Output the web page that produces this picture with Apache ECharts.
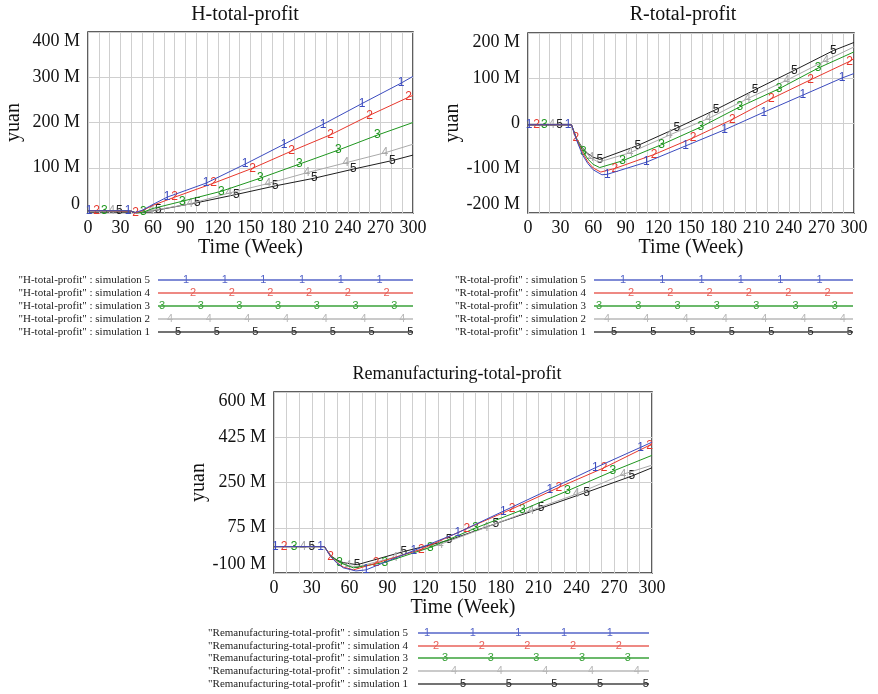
<!DOCTYPE html>
<html><head><meta charset="utf-8">
<script src="https://cdn.jsdelivr.net/npm/echarts@6/dist/echarts.min.js"></script>
<style>html,body{margin:0;padding:0;background:#fff}#c{width:878px;height:694px}</style>
</head><body><div id="c"></div>
<script>
// ---------- shared ----------
const SIM_NAMES = ['simulation 5', 'simulation 4', 'simulation 3', 'simulation 2', 'simulation 1'];
const SIM_MARKS = ['1', '2', '3', '4', '5'];
const COLORS = ['#3b4bbf', '#e8372c', '#1e961e', '#a9a9a9', '#1e1e1e'];
const LEGEND_COLORS = ['#5464c8', '#e8625a', '#3aa23a', '#b8b8b8', '#444444'];
const TITLES = ['H-total-profit', 'R-total-profit', 'Remanufacturing-total-profit'];
const X_LABELS = [0, 30, 60, 90, 120, 150, 180, 210, 240, 270, 300];

// ---------- H-total-profit (M yuan), sim5..sim1 ----------
const H_WEEKS_S5 = [0, 1, 37, 40, 43, 50, 60, 73, 109, 145, 181, 217, 253, 289, 300];
const H_VALS_S5  = [5, 5, 5, 4, 1, 6, 19, 35, 66, 108, 152, 196, 242, 287, 302];
const H_MARKS_S5 = [1, 37, 73, 109, 145, 181, 217, 253, 289];
const H_WEEKS_S4 = [0, 8, 40, 44, 50, 60, 80, 116, 152, 188, 224, 260, 296, 300];
const H_VALS_S4  = [5, 5, 4, 0, 5, 17, 35, 66, 99, 137, 173, 216, 256, 260];
const H_MARKS_S4 = [8, 44, 80, 116, 152, 188, 224, 260, 296];
const H_WEEKS_S3 = [0, 15, 40, 45, 51, 60, 87, 123, 159, 195, 231, 267, 300];
const H_VALS_S3  = [5, 5, 4, 0, 2, 10, 26, 48, 77, 108, 139, 172, 200];
const H_MARKS_S3 = [15, 51, 87, 123, 159, 195, 231, 267];
const H_WEEKS_S2 = [0, 22, 40, 45, 58, 94, 130, 166, 202, 238, 274, 300];
const H_VALS_S2  = [5, 5, 4, 0, 5, 20, 44, 65, 89, 111, 133, 152];
const H_MARKS_S2 = [22, 58, 94, 130, 166, 202, 238, 274];
const H_WEEKS_S1 = [0, 29, 40, 45, 65, 101, 137, 173, 209, 245, 281, 300];
const H_VALS_S1  = [5, 5, 4, 0, 7, 23, 41, 60, 77, 97, 116, 128];
const H_MARKS_S1 = [29, 65, 101, 137, 173, 209, 245, 281];

// ---------- R-total-profit (M yuan) ----------
const R_WEEKS_S5 = [0, 1, 37, 40, 45, 50, 55, 60, 68, 73, 109, 145, 181, 217, 253, 289, 300];
const R_VALS_S5  = [-4, -4, -4, -4, -40, -70, -90, -104, -115, -114, -87, -51, -15, 24, 62, 100, 110];
const R_MARKS_S5 = [1, 37, 73, 109, 145, 181, 217, 253, 289];
const R_WEEKS_S4 = [0, 8, 40, 44, 50, 55, 60, 67, 80, 116, 152, 188, 224, 260, 296, 300];
const R_VALS_S4  = [-4, -4, -4, -33, -65, -86, -100, -109, -101, -70, -33, 8, 54, 96, 137, 143];
const R_MARKS_S4 = [8, 44, 80, 116, 152, 188, 224, 260, 296];
const R_WEEKS_S3 = [0, 15, 40, 45, 51, 55, 60, 66, 87, 123, 159, 195, 231, 267, 300];
const R_VALS_S3  = [-4, -4, -4, -38, -64, -80, -92, -99, -84, -48, -9, 36, 76, 122, 158];
const R_MARKS_S3 = [15, 51, 87, 123, 159, 195, 231, 267];
const R_WEEKS_S2 = [0, 22, 40, 45, 50, 58, 65, 94, 130, 166, 202, 238, 274, 300];
const R_VALS_S2  = [-4, -4, -4, -37, -57, -78, -87, -66, -27, 10, 54, 95, 139, 169];
const R_MARKS_S2 = [22, 58, 94, 130, 166, 202, 238, 274];
const R_WEEKS_S1 = [0, 29, 40, 45, 50, 55, 60, 66, 101, 137, 173, 209, 245, 281, 300];
const R_VALS_S1  = [-4, -4, -4, -36, -55, -68, -76, -81, -50, -11, 30, 74, 117, 161, 179];
const R_MARKS_S1 = [29, 66, 101, 137, 173, 209, 245, 281];

// ---------- Remanufacturing-total-profit (M yuan) ----------
const M_WEEKS_S5 = [0, 1, 37, 40, 45, 50, 55, 65, 73, 111, 146, 182, 219, 255, 291, 300];
const M_VALS_S5  = [2, 2, 2, 2, -37, -62, -80, -92, -88, -13, 56, 139, 224, 307, 386, 406];
const M_MARKS_S5 = [1, 37, 73, 111, 146, 182, 219, 255, 291];
const M_WEEKS_S4 = [0, 8, 40, 45, 50, 55, 63, 81, 117, 153, 189, 226, 262, 298, 300];
const M_VALS_S4  = [2, 2, 2, -36, -60, -77, -88, -62, -8, 72, 148, 231, 307, 394, 396];
const M_MARKS_S4 = [8, 45, 81, 117, 153, 189, 226, 262, 298];
const M_WEEKS_S3 = [0, 16, 40, 45, 52, 63, 88, 124, 160, 197, 233, 269, 300];
const M_VALS_S3  = [2, 2, 2, -35, -59, -80, -59, -1, 74, 144, 218, 294, 355];
const M_MARKS_S3 = [16, 52, 88, 124, 160, 197, 233, 269];
const M_WEEKS_S2 = [0, 23, 40, 45, 50, 59, 66, 96, 132, 168, 204, 240, 277, 300];
const M_VALS_S2  = [2, 2, 2, -34, -55, -72, -76, -39, 11, 76, 142, 205, 282, 317];
const M_MARKS_S2 = [23, 59, 96, 132, 168, 204, 240, 277];
const M_WEEKS_S1 = [0, 30, 40, 45, 50, 55, 66, 103, 139, 176, 212, 248, 284, 300];
const M_VALS_S1  = [2, 2, 2, -33, -50, -60, -68, -17, 27, 91, 151, 212, 275, 307];
const M_MARKS_S1 = [30, 66, 103, 139, 176, 212, 248, 284];

const H_SETS = [[H_WEEKS_S5, H_VALS_S5, H_MARKS_S5], [H_WEEKS_S4, H_VALS_S4, H_MARKS_S4], [H_WEEKS_S3, H_VALS_S3, H_MARKS_S3], [H_WEEKS_S2, H_VALS_S2, H_MARKS_S2], [H_WEEKS_S1, H_VALS_S1, H_MARKS_S1]];
const R_SETS = [[R_WEEKS_S5, R_VALS_S5, R_MARKS_S5], [R_WEEKS_S4, R_VALS_S4, R_MARKS_S4], [R_WEEKS_S3, R_VALS_S3, R_MARKS_S3], [R_WEEKS_S2, R_VALS_S2, R_MARKS_S2], [R_WEEKS_S1, R_VALS_S1, R_MARKS_S1]];
const M_SETS = [[M_WEEKS_S5, M_VALS_S5, M_MARKS_S5], [M_WEEKS_S4, M_VALS_S4, M_MARKS_S4], [M_WEEKS_S3, M_VALS_S3, M_MARKS_S3], [M_WEEKS_S2, M_VALS_S2, M_MARKS_S2], [M_WEEKS_S1, M_VALS_S1, M_MARKS_S1]];

// ---------- rendering ----------
const SERIF = '"Liberation Serif", "Times New Roman", serif';
const SANS = '"Liberation Sans", Arial, sans-serif';
const chart = echarts.init(document.getElementById('c'));

const GRIDS = [
  { left: 88, top: 32, width: 325, height: 181 },
  { left: 528, top: 33, width: 326, height: 180 },
  { left: 274, top: 392, width: 378, height: 181 }
];
const Y_RANGES = [[0, 400, 100], [-200, 200, 100], [-100, 600, 175]];

function xAxis(gi) {
  return {
    type: 'value', gridIndex: gi, min: 0, max: 300, interval: 10,
    name: 'Time (Week)', nameLocation: 'middle', nameGap: 24,
    nameTextStyle: { fontFamily: SERIF, fontSize: 20, color: '#111' },
    axisLine: { show: false }, axisTick: { show: false },
    axisLabel: { margin: 6, fontFamily: SERIF, fontSize: 18, color: '#111',
      formatter: v => X_LABELS.includes(v) ? String(v) : '' },
    splitLine: { show: true, lineStyle: { color: '#cfcfcf', width: 1 } }
  };
}
function yAxis(gi) {
  const r = Y_RANGES[gi];
  return {
    type: 'value', gridIndex: gi, min: r[0], max: r[1], interval: r[2],
    name: 'yuan', nameLocation: 'middle', nameGap: 64,
    nameTextStyle: { fontFamily: SERIF, fontSize: 20, color: '#111' },
    axisLine: { show: false }, axisTick: { show: false },
    axisLabel: { margin: 8, fontFamily: SERIF, fontSize: 18, color: '#111',
      verticalAlignMinLabel: 'bottom', verticalAlignMaxLabel: 'top',
      formatter: v => v === 0 ? '0' : v + ' M' },
    splitLine: { show: true, lineStyle: { color: '#cfcfcf', width: 1 } }
  };
}
function makeSeries(sets, gi, prefix) {
  return sets.map((s, si) => ({
    type: 'line', name: prefix + SIM_NAMES[si], xAxisIndex: gi, yAxisIndex: gi,
    data: s[0].map((w, i) => ({ value: [w, s[1][i]], label: { show: s[2].includes(w) } })),
    symbol: 'circle', symbolSize: 0, showSymbol: true,
    lineStyle: { color: COLORS[si], width: 1 }, itemStyle: { color: COLORS[si] },
    label: { show: false, position: 'inside', formatter: SIM_MARKS[si], color: COLORS[si],
      fontFamily: SANS, fontSize: 12 },
    silent: true, z: 10 - si
  }));
}

// legend blocks (drawn as graphics)
const LEGENDS = [
  { title: 'H-total-profit', textRight: 150, x1: 158, x2: 413, rows: [280, 293, 306, 319, 332],
    first: [186, 193, 162, 170, 178], period: 38.7 },
  { title: 'R-total-profit', textRight: 586, x1: 594, x2: 853, rows: [280, 293, 306, 319, 332],
    first: [623, 631, 599, 607, 614], period: 39.3 },
  { title: 'Remanufacturing-total-profit', textRight: 408, x1: 418, x2: 649, rows: [633, 646, 658, 671, 684],
    first: [427, 436, 445, 454, 463], period: 45.7 }
];
const graphics = [];
const TITLE_POS = [[245, 15, 20], [683, 15, 20], [457, 374, 18]];
TITLES.forEach((t, i) => graphics.push({ type: 'text', x: TITLE_POS[i][0], y: TITLE_POS[i][1],
  style: { text: t, fill: '#111', font: TITLE_POS[i][2] + 'px ' + SERIF, textAlign: 'center', textVerticalAlign: 'middle' } }));
LEGENDS.forEach(L => {
  L.rows.forEach((y, si) => {
    graphics.push({ type: 'text', x: L.textRight, y: y,
      style: { text: '"' + L.title + '" : ' + SIM_NAMES[si], fill: '#222', font: '11px ' + SERIF,
        textAlign: 'right', textVerticalAlign: 'middle' } });
    graphics.push({ type: 'line', shape: { x1: L.x1, y1: y, x2: L.x2, y2: y },
      style: { stroke: LEGEND_COLORS[si], lineWidth: 1.6 } });
    for (let x = L.first[si]; x <= L.x2 + 1; x += L.period) {
      graphics.push({ type: 'text', x: x, y: y,
        style: { text: SIM_MARKS[si], fill: si === 4 ? '#222' : LEGEND_COLORS[si], font: '11px ' + SANS,
          textAlign: 'center', textVerticalAlign: 'middle' } });
    }
  });
});

chart.setOption({
  animation: false,
  backgroundColor: '#fff',
  grid: GRIDS.map(g => Object.assign({ show: true, borderColor: '#2a2a2a', borderWidth: 1.5, backgroundColor: 'transparent' }, g)),
  xAxis: [xAxis(0), xAxis(1), xAxis(2)],
  yAxis: [yAxis(0), yAxis(1), yAxis(2)],
  series: [].concat(makeSeries(H_SETS, 0, 'H '), makeSeries(R_SETS, 1, 'R '), makeSeries(M_SETS, 2, 'M ')),
  graphic: graphics
});
</script></body></html>
